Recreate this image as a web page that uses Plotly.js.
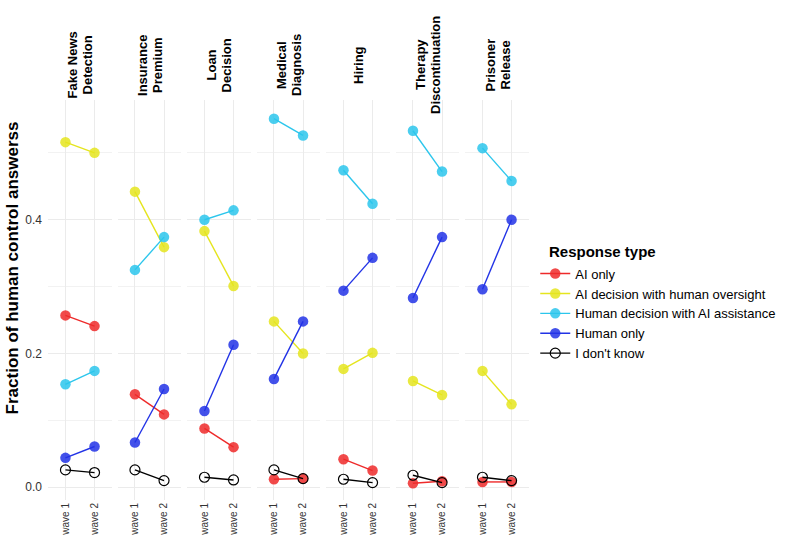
<!DOCTYPE html>
<html>
<head>
<meta charset="utf-8">
<script src="https://cdn.plot.ly/plotly-3.0.1.min.js"></script>
<style>
  body { margin: 0; background: #fff; }
  #myDiv { width: 793px; height: 555px; }
</style>
</head>
<body>
<div id="myDiv"></div>
<script>
// tasks (facets), line break marked with "\n"
let tasks = ["Fake News\nDetection", "Insurance\nPremium", "Loan\nDecision", "Medical\nDiagnosis",
             "Hiring", "Therapy\nDiscontinuation", "Prisoner\nRelease"];
let waves = ["wave 1", "wave 2"];

// fraction of answers per task, wave 1 / wave 2
let aiOnlyW1 = [0.257, 0.139, 0.088, 0.012, 0.042, 0.006, 0.008];
let aiOnlyW2 = [0.241, 0.109, 0.060, 0.013, 0.025, 0.009, 0.008];
let aiOversightW1 = [0.516, 0.442, 0.383, 0.248, 0.177, 0.159, 0.174];
let aiOversightW2 = [0.500, 0.359, 0.301, 0.200, 0.201, 0.138, 0.124];
let humanAssistW1 = [0.154, 0.325, 0.400, 0.551, 0.474, 0.533, 0.507];
let humanAssistW2 = [0.174, 0.374, 0.414, 0.526, 0.424, 0.472, 0.458];
let humanOnlyW1 = [0.044, 0.067, 0.114, 0.162, 0.294, 0.283, 0.296];
let humanOnlyW2 = [0.061, 0.147, 0.213, 0.248, 0.343, 0.374, 0.400];
let dontKnowW1 = [0.026, 0.026, 0.015, 0.026, 0.012, 0.018, 0.015];
let dontKnowW2 = [0.022, 0.010, 0.011, 0.013, 0.007, 0.007, 0.010];

let seriesNames = ["AI only", "AI decision with human oversight", "Human decision with AI assistance",
                   "Human only", "I don't know"];
let seriesColors = ["#ee2a2a", "#e5e51e", "#2cc6ec", "#2233e6", "#000000"];
let w1 = [aiOnlyW1, aiOversightW1, humanAssistW1, humanOnlyW1, dontKnowW1];
let w2 = [aiOnlyW2, aiOversightW2, humanAssistW2, humanOnlyW2, dontKnowW2];

let font = "Liberation Sans, Arial, sans-serif";
let plotW = 486.5; // px width of panel area
let panelStep = 70.3, panelW = 64.7;

let data = [];
for (let s = 0; s < seriesNames.length; s++) {
    for (let p = 0; p < tasks.length; p++) {
        let open = (s == 4);
        data.push({
            type: 'scatter',
            mode: 'lines+markers',
            x: waves,
            y: [w1[s][p], w2[s][p]],
            xaxis: 'x' + (p + 1),
            yaxis: 'y',
            name: seriesNames[s],
            legendgroup: seriesNames[s],
            showlegend: p == 0,
            line: {color: seriesColors[s], width: 1.4},
            marker: open
                ? {symbol: 'circle-open', size: 10, color: '#000', line: {width: 1.2}}
                : {symbol: 'circle', size: 10.5, color: seriesColors[s], opacity: 0.85},
            hoverinfo: 'name+y'
        });
    }
}

let layout = {
    width: 793,
    height: 555,
    margin: {l: 48, r: 258, t: 100, b: 55},
    paper_bgcolor: '#fff',
    plot_bgcolor: '#fff',
    font: {family: font, color: '#000'},
    showlegend: true,
    legend: {
        x: 1.013, xanchor: 'left',
        y: 0.6035, yanchor: 'top',
        font: {size: 13},
        tracegroupgap: 0
    },
    yaxis: {
        range: [-0.019, 0.579],
        tick0: 0, dtick: 0.2,
        tickformat: '.1f',
        tickfont: {size: 12, color: '#333'},
        ticklabelstandoff: 5,
        showgrid: true, gridcolor: '#ebebeb', gridwidth: 1,
        minor: {dtick: 0.1, tick0: 0, showgrid: true, gridcolor: '#f2f2f2', gridwidth: 0.6},
        zeroline: false, showline: false,
        anchor: 'x'
    },
    annotations: [{
        text: 'Fraction of human control answerss',
        xref: 'paper', yref: 'paper',
        x: (12 - 48) / plotW, y: 0.58,
        xanchor: 'center', yanchor: 'middle',
        textangle: -90, showarrow: false,
        font: {size: 17, weight: 'bold', family: font}
    }, {
        // legend title
        text: 'Response type',
        xref: 'paper', yref: 'paper',
        x: (553 - 48) / plotW, y: 0.622,
        xanchor: 'left', yanchor: 'middle',
        showarrow: false,
        font: {size: 15, weight: 'bold', family: font}
    }]
};

for (let p = 0; p < tasks.length; p++) {
    let left = panelStep * p / plotW;
    let key = p == 0 ? 'xaxis' : 'xaxis' + (p + 1);
    layout[key] = {
        domain: [left, left + panelW / plotW],
        type: 'category',
        range: [-0.6, 1.6],
        tickangle: -90,
        tickfont: {size: 10, color: '#333'},
        showgrid: true, gridcolor: '#ebebeb', gridwidth: 1,
        zeroline: false, showline: false,
        anchor: 'y'
    };
    // strip label, one annotation per line for tighter line spacing
    let lines = tasks[p].split("\n");
    for (let k = 0; k < lines.length; k++) {
        layout.annotations.push({
            text: lines[k],
            xref: 'x' + (p + 1), yref: 'paper',
            x: 0.5, y: 1.0875,
            xshift: (k - (lines.length - 1) / 2) * 15,
            xanchor: 'center', yanchor: 'middle',
            textangle: -90, showarrow: false,
            font: {size: 13, weight: 'bold', family: font}
        });
    }
}

Plotly.newPlot("myDiv", data, layout, {displayModeBar: false});
</script>
</body>
</html>
